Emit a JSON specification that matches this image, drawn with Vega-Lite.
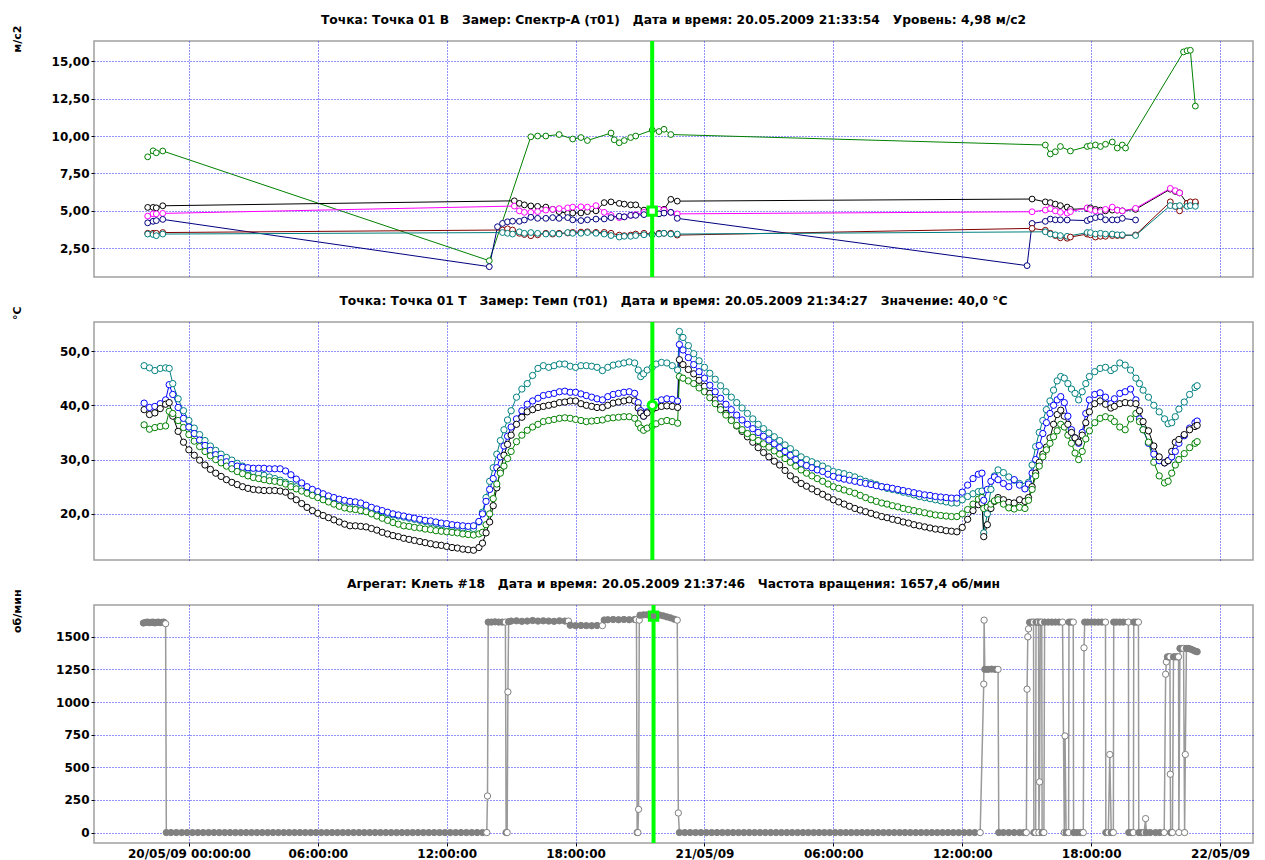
{
"$schema": "https://vega.github.io/schema/vega-lite/v6.json",
"background": "white",
"padding": {"left": 10, "top": 12, "right": 0, "bottom": 0},
"spacing": 13,
"datasets": {
"p1": [
{"t":"2009-05-19T22:05","g":8.61,"k":5.23,"m":4.65,"n":4.2,"r":3.5,"c":3.45},
{"t":"2009-05-19T22:20","g":9.01,"k":5.23,"m":4.8,"n":4.3,"r":3.5,"c":3.42},
{"t":"2009-05-19T22:29","g":8.88,"k":5.2,"m":4.8,"n":4.35,"r":3.5,"c":3.34},
{"t":"2009-05-19T22:47","g":9.0,"k":5.34,"m":4.83,"n":4.43,"r":3.55,"c":3.45},
{"t":"2009-05-20T13:59","g":1.67,"n":1.27},
{"t":"2009-05-20T14:22","n":3.94},
{"t":"2009-05-20T14:36","n":4.16,"r":3.72,"c":3.55},
{"t":"2009-05-20T14:50","n":4.27,"r":3.8,"c":3.5},
{"t":"2009-05-20T15:04","n":4.31,"r":3.72,"c":3.45},
{"t":"2009-05-20T15:09","k":5.67,"m":5.32},
{"t":"2009-05-20T15:23","n":4.3,"k":5.5,"m":5.0,"r":3.5,"c":3.6},
{"t":"2009-05-20T15:37","n":4.39,"k":5.4,"m":4.9,"r":3.42,"c":3.5},
{"t":"2009-05-20T15:55","g":9.95,"n":4.57,"k":5.33,"m":4.9,"r":3.34,"c":3.55},
{"t":"2009-05-20T16:14","g":10.0,"n":4.5,"k":5.3,"m":4.95,"r":3.4,"c":3.5},
{"t":"2009-05-20T16:37","g":10.0,"n":4.5,"k":5.25,"m":5.05,"r":3.5,"c":3.45},
{"t":"2009-05-20T16:56","n":4.55,"k":5.1,"m":5.1,"r":3.45,"c":3.5},
{"t":"2009-05-20T17:14","g":10.1,"n":4.5,"k":4.95,"m":5.15,"r":3.5,"c":3.45},
{"t":"2009-05-20T17:38","n":4.55,"k":4.83,"m":5.2,"r":3.52,"c":3.55},
{"t":"2009-05-20T17:52","g":9.8,"n":4.4,"k":4.85,"m":5.25,"r":3.56,"c":3.5},
{"t":"2009-05-20T18:15","g":9.9,"n":4.35,"k":4.86,"m":5.27,"r":3.58,"c":3.5},
{"t":"2009-05-20T18:33","g":9.7,"n":4.4,"k":4.95,"m":5.25,"r":3.6,"c":3.55},
{"t":"2009-05-20T18:57","n":4.45,"k":5.0,"m":5.35,"r":3.56,"c":3.5},
{"t":"2009-05-20T19:20","n":4.46,"k":5.55,"m":4.9,"r":3.56,"c":3.45},
{"t":"2009-05-20T19:39","g":10.2,"n":4.55,"k":5.6,"m":4.7,"r":3.5,"c":3.35},
{"t":"2009-05-20T19:48","g":9.75},
{"t":"2009-05-20T20:02","g":9.55,"n":4.64,"k":5.5,"m":4.55,"r":3.38,"c":3.25},
{"t":"2009-05-20T20:16","g":9.7,"n":4.6,"k":5.45,"m":4.6,"r":3.34,"c":3.3},
{"t":"2009-05-20T20:34","g":9.9,"n":4.7,"k":5.4,"m":4.7,"r":3.38,"c":3.3},
{"t":"2009-05-20T20:48","g":10.0,"n":4.7,"k":5.4,"m":4.75,"r":3.45,"c":3.35},
{"t":"2009-05-20T21:11","n":4.75,"k":5.05,"m":4.9,"r":3.5,"c":3.4},
{"t":"2009-05-20T21:34","g":10.4,"n":4.8,"k":5.0,"m":4.98,"r":3.45,"c":3.4},
{"t":"2009-05-20T21:53","g":10.3,"n":4.8,"k":5.05,"m":5.1,"r":3.5,"c":3.45},
{"t":"2009-05-20T22:07","g":10.45,"n":4.85,"k":5.1,"m":5.05,"r":3.5,"c":3.5},
{"t":"2009-05-20T22:26","g":10.1,"n":4.9,"k":5.77,"m":4.9,"r":3.5,"c":3.45},
{"t":"2009-05-20T22:44","n":4.5,"k":5.65,"m":4.8,"r":3.38,"c":3.45},
{"t":"2009-05-21T15:01","n":1.34},
{"t":"2009-05-21T15:15","n":4.16,"k":5.79,"m":4.94,"r":3.83},
{"t":"2009-05-21T15:52","g":9.4,"n":4.3,"k":5.6,"m":5.05,"r":3.7,"c":3.6},
{"t":"2009-05-21T16:06","g":8.8,"n":4.45,"k":5.55,"m":5.15,"r":3.5,"c":3.45},
{"t":"2009-05-21T16:20","g":8.95,"n":4.4,"k":5.45,"m":5.0,"r":3.35,"c":3.4},
{"t":"2009-05-21T16:34","g":9.3,"n":4.4,"k":5.35,"m":4.9,"r":3.2,"c":3.35},
{"t":"2009-05-21T16:53","n":4.39,"k":5.25,"m":4.85,"r":3.17,"c":3.3},
{"t":"2009-05-21T17:02","g":9.0,"k":5.1,"m":4.95,"r":3.25},
{"t":"2009-05-21T17:49","g":9.3,"n":4.35,"k":5.15,"m":5.2,"r":3.45,"c":3.55},
{"t":"2009-05-21T17:58","g":9.35,"n":4.45,"k":5.2,"m":5.1,"r":3.4,"c":3.55},
{"t":"2009-05-21T18:12","g":9.4,"n":4.55,"k":5.1,"m":5.0,"r":3.25,"c":3.45},
{"t":"2009-05-21T18:26","g":9.3,"n":4.6,"k":5.05,"m":4.95,"r":3.3,"c":3.5},
{"t":"2009-05-21T18:40","g":9.45,"n":4.4,"k":5.0,"m":5.1,"r":3.3,"c":3.45},
{"t":"2009-05-21T18:59","g":9.6,"n":4.4,"k":5.05,"m":5.25,"r":3.35,"c":3.45},
{"t":"2009-05-21T19:13","g":9.2,"n":4.4,"k":5.05,"m":5.05,"r":3.35,"c":3.4},
{"t":"2009-05-21T19:27","g":9.4,"n":4.5,"k":5.0,"m":5.0,"r":3.35,"c":3.4},
{"t":"2009-05-21T19:36","g":9.2},
{"t":"2009-05-21T20:04","n":4.39,"k":5.1,"m":5.17,"r":3.39,"c":3.35},
{"t":"2009-05-21T21:41","k":6.45,"m":6.5,"r":5.6,"c":5.35},
{"t":"2009-05-21T21:55","k":6.3,"m":6.35,"r":5.3,"c":5.3},
{"t":"2009-05-21T22:07","k":6.2,"m":6.2,"r":5.0,"c":5.35},
{"t":"2009-05-21T22:18","g":15.62},
{"t":"2009-05-21T22:28","g":15.7,"k":5.5,"r":5.5,"c":5.3},
{"t":"2009-05-21T22:37","g":15.73,"k":5.5,"r":5.6,"c":5.35},
{"t":"2009-05-21T22:51","g":12.0,"k":5.5,"r":5.6,"c":5.3}
],
"p2": [
{"t":"2009-05-19T21:55","c":47.3,"b":40.4,"k":39.2,"g":36.4},
{"t":"2009-05-19T22:10","c":46.9,"b":39.6,"k":38.3,"g":35.6},
{"t":"2009-05-19T22:25","c":46.4,"b":39.8,"k":38.6,"g":35.9},
{"t":"2009-05-19T22:40","c":46.8,"b":40.3,"k":39.4,"g":36.1},
{"t":"2009-05-19T22:55","c":46.9,"b":41.0,"k":40.2,"g":36.2},
{"t":"2009-05-19T23:05","c":46.8,"b":43.8,"k":40.5,"g":38.9},
{"t":"2009-05-19T23:15","c":44.0,"b":42.0,"k":38.0,"g":38.5},
{"t":"2009-05-19T23:30","c":41.2,"b":39.6,"k":35.2,"g":37.2},
{"t":"2009-05-19T23:45","c":39.0,"b":37.6,"k":33.2,"g":35.9},
{"t":"2009-05-20T00:00","c":37.2,"b":36.0,"k":31.8,"g":34.6},
{"t":"2009-05-20T00:15","c":35.8,"b":34.8,"k":30.8,"g":33.4},
{"t":"2009-05-20T00:30","c":34.6,"b":33.6,"k":29.9,"g":32.4},
{"t":"2009-05-20T00:45","c":33.5,"b":32.6,"k":29.0,"g":31.5},
{"t":"2009-05-20T01:00","c":32.5,"b":31.7,"k":28.2,"g":30.7},
{"t":"2009-05-20T01:15","c":31.7,"b":30.9,"k":27.5,"g":30.0},
{"t":"2009-05-20T01:30","c":31.0,"b":30.2,"k":26.9,"g":29.4},
{"t":"2009-05-20T01:45","c":30.4,"b":29.6,"k":26.3,"g":28.8},
{"t":"2009-05-20T02:00","c":29.9,"b":29.1,"k":25.8,"g":28.3},
{"t":"2009-05-20T02:15","c":29.3,"b":28.8,"k":25.4,"g":27.8},
{"t":"2009-05-20T02:30","c":28.8,"b":28.6,"k":25.0,"g":27.4},
{"t":"2009-05-20T02:45","c":28.2,"b":28.5,"k":24.7,"g":27.0},
{"t":"2009-05-20T03:00","c":27.8,"b":28.4,"k":24.5,"g":26.7},
{"t":"2009-05-20T03:15","c":27.4,"b":28.4,"k":24.4,"g":26.5},
{"t":"2009-05-20T03:30","c":27.1,"b":28.4,"k":24.3,"g":26.3},
{"t":"2009-05-20T03:45","c":26.8,"b":28.3,"k":24.3,"g":26.1},
{"t":"2009-05-20T04:00","c":26.5,"b":28.3,"k":24.3,"g":26.0},
{"t":"2009-05-20T04:15","c":26.2,"b":28.3,"k":24.2,"g":25.8},
{"t":"2009-05-20T04:30","c":25.8,"b":27.9,"k":24.0,"g":25.5},
{"t":"2009-05-20T04:45","c":25.4,"b":27.2,"k":23.3,"g":25.0},
{"t":"2009-05-20T05:00","c":25.0,"b":26.4,"k":22.6,"g":24.6},
{"t":"2009-05-20T05:15","c":24.7,"b":25.7,"k":21.9,"g":24.2},
{"t":"2009-05-20T05:30","c":24.4,"b":25.0,"k":21.2,"g":23.8},
{"t":"2009-05-20T05:45","c":24.1,"b":24.5,"k":20.6,"g":23.4},
{"t":"2009-05-20T06:00","c":23.8,"b":24.1,"k":20.1,"g":23.0},
{"t":"2009-05-20T06:15","c":23.4,"b":23.7,"k":19.7,"g":22.6},
{"t":"2009-05-20T06:30","c":23.0,"b":23.3,"k":19.3,"g":22.2},
{"t":"2009-05-20T06:45","c":22.7,"b":23.0,"k":18.9,"g":21.8},
{"t":"2009-05-20T07:00","c":22.4,"b":22.7,"k":18.5,"g":21.4},
{"t":"2009-05-20T07:15","c":22.1,"b":22.5,"k":18.1,"g":21.1},
{"t":"2009-05-20T07:30","c":21.8,"b":22.3,"k":17.8,"g":20.9},
{"t":"2009-05-20T07:45","c":21.6,"b":22.2,"k":17.8,"g":20.8},
{"t":"2009-05-20T08:00","c":21.5,"b":22.0,"k":17.7,"g":20.6},
{"t":"2009-05-20T08:15","c":21.3,"b":21.6,"k":17.6,"g":20.4},
{"t":"2009-05-20T08:30","c":21.0,"b":21.2,"k":17.3,"g":20.0},
{"t":"2009-05-20T08:45","c":20.7,"b":20.9,"k":17.0,"g":19.6},
{"t":"2009-05-20T09:00","c":20.4,"b":20.6,"k":16.6,"g":19.2},
{"t":"2009-05-20T09:15","c":20.1,"b":20.3,"k":16.3,"g":18.8},
{"t":"2009-05-20T09:30","c":19.8,"b":20.0,"k":16.0,"g":18.4},
{"t":"2009-05-20T09:45","c":19.6,"b":19.8,"k":15.8,"g":18.1},
{"t":"2009-05-20T10:00","c":19.4,"b":19.6,"k":15.5,"g":17.8},
{"t":"2009-05-20T10:15","c":19.2,"b":19.4,"k":15.3,"g":17.7},
{"t":"2009-05-20T10:30","c":19.0,"b":19.2,"k":15.1,"g":17.5},
{"t":"2009-05-20T10:45","c":18.8,"b":19.0,"k":14.9,"g":17.4},
{"t":"2009-05-20T11:00","c":18.6,"b":18.8,"k":14.7,"g":17.2},
{"t":"2009-05-20T11:15","c":18.4,"b":18.7,"k":14.5,"g":17.1},
{"t":"2009-05-20T11:30","c":18.2,"b":18.5,"k":14.3,"g":16.9},
{"t":"2009-05-20T11:45","c":18.0,"b":18.3,"k":14.2,"g":16.8},
{"t":"2009-05-20T12:00","c":17.8,"b":18.2,"k":14.0,"g":16.7},
{"t":"2009-05-20T12:15","c":17.7,"b":18.0,"k":13.8,"g":16.6},
{"t":"2009-05-20T12:30","c":17.5,"b":17.9,"k":13.7,"g":16.5},
{"t":"2009-05-20T12:45","c":17.4,"b":17.8,"k":13.5,"g":16.3},
{"t":"2009-05-20T13:00","c":17.3,"b":17.7,"k":13.4,"g":16.2},
{"t":"2009-05-20T13:15","c":17.3,"b":17.8,"k":13.3,"g":16.1},
{"t":"2009-05-20T13:30","c":18.5,"b":18.6,"k":13.8,"g":16.3},
{"t":"2009-05-20T13:40","c":20.3,"b":20.0,"k":14.6,"g":16.6},
{"t":"2009-05-20T13:50","c":23.0,"b":22.3,"k":16.5,"g":18.0},
{"t":"2009-05-20T14:00","c":26.0,"b":24.5,"k":18.5,"g":20.0},
{"t":"2009-05-20T14:10","c":28.5,"b":26.5,"k":21.5,"g":22.8},
{"t":"2009-05-20T14:20","c":31.0,"b":28.5,"k":24.8,"g":25.5},
{"t":"2009-05-20T14:30","c":33.5,"b":30.5,"k":28.0,"g":27.5},
{"t":"2009-05-20T14:40","c":35.5,"b":32.5,"k":30.8,"g":28.8},
{"t":"2009-05-20T14:50","c":37.3,"b":34.3,"k":32.8,"g":30.2},
{"t":"2009-05-20T15:00","c":39.0,"b":36.0,"k":34.5,"g":31.5},
{"t":"2009-05-20T15:15","c":41.5,"b":37.5,"k":36.5,"g":33.3},
{"t":"2009-05-20T15:30","c":43.0,"b":39.0,"k":37.8,"g":34.5},
{"t":"2009-05-20T15:45","c":44.0,"b":40.2,"k":38.8,"g":35.4},
{"t":"2009-05-20T16:00","c":45.5,"b":40.8,"k":39.2,"g":36.0},
{"t":"2009-05-20T16:15","c":46.8,"b":41.3,"k":39.6,"g":36.5},
{"t":"2009-05-20T16:30","c":47.3,"b":41.8,"k":39.8,"g":37.0},
{"t":"2009-05-20T16:45","c":47.0,"b":42.0,"k":40.0,"g":37.2},
{"t":"2009-05-20T17:00","c":47.3,"b":42.2,"k":40.2,"g":37.4},
{"t":"2009-05-20T17:15","c":47.6,"b":42.5,"k":40.5,"g":37.6},
{"t":"2009-05-20T17:30","c":47.6,"b":42.6,"k":40.6,"g":37.7},
{"t":"2009-05-20T17:45","c":47.2,"b":42.4,"k":40.8,"g":37.6},
{"t":"2009-05-20T18:00","c":47.0,"b":42.4,"k":40.8,"g":37.4},
{"t":"2009-05-20T18:15","c":47.3,"b":42.1,"k":40.3,"g":37.2},
{"t":"2009-05-20T18:30","c":47.3,"b":41.8,"k":40.0,"g":37.0},
{"t":"2009-05-20T18:45","c":47.2,"b":41.5,"k":39.8,"g":37.1},
{"t":"2009-05-20T19:00","c":47.0,"b":41.2,"k":39.6,"g":37.2},
{"t":"2009-05-20T19:15","c":46.4,"b":41.0,"k":39.6,"g":37.3},
{"t":"2009-05-20T19:30","c":47.0,"b":41.6,"k":40.0,"g":37.6},
{"t":"2009-05-20T19:45","c":47.4,"b":42.0,"k":40.4,"g":37.7},
{"t":"2009-05-20T20:00","c":47.6,"b":42.2,"k":40.6,"g":37.8},
{"t":"2009-05-20T20:15","c":47.8,"b":42.4,"k":40.8,"g":37.9},
{"t":"2009-05-20T20:30","c":48.0,"b":42.5,"k":41.0,"g":37.9},
{"t":"2009-05-20T20:45","c":47.8,"b":42.2,"k":40.8,"g":37.6},
{"t":"2009-05-20T20:55","c":46.5,"b":40.5,"k":39.5,"g":36.6},
{"t":"2009-05-20T21:02","c":45.3,"b":39.0,"k":38.6,"g":35.8},
{"t":"2009-05-20T21:10","c":45.8,"b":38.0,"k":38.0,"g":35.4},
{"t":"2009-05-20T21:20","c":46.5,"b":38.8,"k":38.6,"g":35.8},
{"t":"2009-05-20T21:34","c":47.0,"b":40.0,"k":39.2,"g":36.2},
{"t":"2009-05-20T21:45","c":47.6,"b":40.6,"k":39.6,"g":36.6},
{"t":"2009-05-20T22:00","c":47.9,"b":41.0,"k":39.8,"g":37.0},
{"t":"2009-05-20T22:15","c":47.8,"b":41.2,"k":39.9,"g":37.2},
{"t":"2009-05-20T22:30","c":47.3,"b":41.1,"k":39.8,"g":37.0},
{"t":"2009-05-20T22:45","c":46.5,"b":40.8,"k":39.6,"g":36.7},
{"t":"2009-05-20T22:50","c":53.6,"b":51.2,"k":48.4,"g":45.3},
{"t":"2009-05-20T23:00","c":52.5,"b":50.2,"k":47.5,"g":45.0},
{"t":"2009-05-20T23:15","c":51.0,"b":48.8,"k":46.6,"g":44.5},
{"t":"2009-05-20T23:30","c":49.5,"b":47.5,"k":45.8,"g":44.0},
{"t":"2009-05-20T23:45","c":48.2,"b":46.2,"k":44.6,"g":43.2},
{"t":"2009-05-21T00:00","c":47.0,"b":45.0,"k":43.5,"g":42.5},
{"t":"2009-05-21T00:15","c":45.9,"b":43.7,"k":42.2,"g":41.4},
{"t":"2009-05-21T00:30","c":44.8,"b":42.5,"k":41.0,"g":40.3},
{"t":"2009-05-21T00:45","c":43.6,"b":41.3,"k":39.7,"g":39.2},
{"t":"2009-05-21T01:00","c":42.5,"b":40.2,"k":38.5,"g":38.2},
{"t":"2009-05-21T01:15","c":41.5,"b":39.2,"k":37.3,"g":37.2},
{"t":"2009-05-21T01:30","c":40.5,"b":38.2,"k":36.2,"g":36.3},
{"t":"2009-05-21T01:45","c":39.5,"b":37.3,"k":35.2,"g":35.5},
{"t":"2009-05-21T02:00","c":38.5,"b":36.5,"k":34.2,"g":34.8},
{"t":"2009-05-21T02:15","c":37.5,"b":35.7,"k":33.2,"g":34.1},
{"t":"2009-05-21T02:30","c":36.5,"b":35.0,"k":32.2,"g":33.5},
{"t":"2009-05-21T02:45","c":35.7,"b":34.3,"k":31.3,"g":32.9},
{"t":"2009-05-21T03:00","c":34.9,"b":33.6,"k":30.5,"g":32.3},
{"t":"2009-05-21T03:15","c":34.2,"b":32.9,"k":29.7,"g":31.6},
{"t":"2009-05-21T03:30","c":33.5,"b":32.2,"k":29.0,"g":31.0},
{"t":"2009-05-21T03:45","c":32.7,"b":31.5,"k":28.0,"g":30.2},
{"t":"2009-05-21T04:00","c":32.0,"b":30.8,"k":27.0,"g":29.5},
{"t":"2009-05-21T04:15","c":31.2,"b":30.0,"k":26.3,"g":28.8},
{"t":"2009-05-21T04:30","c":30.5,"b":29.3,"k":25.6,"g":28.1},
{"t":"2009-05-21T04:45","c":30.0,"b":28.9,"k":25.1,"g":27.5},
{"t":"2009-05-21T05:00","c":29.6,"b":28.5,"k":24.6,"g":27.0},
{"t":"2009-05-21T05:15","c":29.2,"b":28.1,"k":24.1,"g":26.5},
{"t":"2009-05-21T05:30","c":28.8,"b":27.8,"k":23.6,"g":26.0},
{"t":"2009-05-21T05:45","c":28.3,"b":27.3,"k":23.1,"g":25.5},
{"t":"2009-05-21T06:00","c":27.8,"b":26.9,"k":22.6,"g":25.0},
{"t":"2009-05-21T06:15","c":27.6,"b":26.6,"k":22.2,"g":24.7},
{"t":"2009-05-21T06:30","c":27.4,"b":26.4,"k":21.8,"g":24.4},
{"t":"2009-05-21T06:45","c":27.1,"b":26.2,"k":21.4,"g":24.1},
{"t":"2009-05-21T07:00","c":26.8,"b":26.0,"k":21.0,"g":23.8},
{"t":"2009-05-21T07:15","c":26.4,"b":25.8,"k":20.7,"g":23.4},
{"t":"2009-05-21T07:30","c":26.0,"b":25.6,"k":20.4,"g":23.0},
{"t":"2009-05-21T07:45","c":25.7,"b":25.4,"k":20.1,"g":22.6},
{"t":"2009-05-21T08:00","c":25.4,"b":25.2,"k":19.8,"g":22.3},
{"t":"2009-05-21T08:15","c":25.0,"b":25.0,"k":19.5,"g":22.0},
{"t":"2009-05-21T08:30","c":24.7,"b":24.9,"k":19.3,"g":21.8},
{"t":"2009-05-21T08:45","c":24.5,"b":24.7,"k":19.0,"g":21.5},
{"t":"2009-05-21T09:00","c":24.3,"b":24.5,"k":18.8,"g":21.3},
{"t":"2009-05-21T09:15","c":24.0,"b":24.3,"k":18.5,"g":21.0},
{"t":"2009-05-21T09:30","c":23.8,"b":24.1,"k":18.3,"g":20.8},
{"t":"2009-05-21T09:45","c":23.5,"b":23.9,"k":18.0,"g":20.6},
{"t":"2009-05-21T10:00","c":23.2,"b":23.7,"k":17.8,"g":20.4},
{"t":"2009-05-21T10:15","c":23.0,"b":23.5,"k":17.6,"g":20.2},
{"t":"2009-05-21T10:30","c":22.8,"b":23.4,"k":17.4,"g":20.0},
{"t":"2009-05-21T10:45","c":22.6,"b":23.2,"k":17.2,"g":19.8},
{"t":"2009-05-21T11:00","c":22.4,"b":23.1,"k":17.1,"g":19.7},
{"t":"2009-05-21T11:15","c":22.2,"b":23.0,"k":16.9,"g":19.6},
{"t":"2009-05-21T11:30","c":22.0,"b":22.9,"k":16.8,"g":19.5},
{"t":"2009-05-21T11:45","c":22.0,"b":22.9,"k":16.7,"g":19.5},
{"t":"2009-05-21T12:00","c":22.6,"b":24.0,"k":17.5,"g":20.0},
{"t":"2009-05-21T12:15","c":23.2,"b":25.3,"k":19.0,"g":20.8},
{"t":"2009-05-21T12:30","c":23.7,"b":26.5,"k":20.6,"g":21.8},
{"t":"2009-05-21T12:45","c":24.1,"b":27.3,"k":21.7,"g":22.7},
{"t":"2009-05-21T12:55","c":24.2,"b":27.5,"k":22.0,"g":23.0},
{"t":"2009-05-21T13:00","c":16.5,"b":22.5,"k":15.8,"g":21.0},
{"t":"2009-05-21T13:10","c":20.0,"b":24.5,"k":18.0,"g":21.2},
{"t":"2009-05-21T13:20","c":24.5,"b":26.0,"k":21.0,"g":21.8},
{"t":"2009-05-21T13:30","c":27.0,"b":26.8,"k":22.3,"g":22.4},
{"t":"2009-05-21T13:40","c":28.1,"b":26.3,"k":23.0,"g":22.6},
{"t":"2009-05-21T13:55","c":27.6,"b":25.6,"k":22.6,"g":21.8},
{"t":"2009-05-21T14:10","c":26.8,"b":25.0,"k":22.1,"g":21.1},
{"t":"2009-05-21T14:25","c":26.2,"b":26.3,"k":22.0,"g":20.9},
{"t":"2009-05-21T14:40","c":25.6,"b":25.3,"k":22.6,"g":21.2},
{"t":"2009-05-21T14:55","c":25.1,"b":24.6,"k":22.3,"g":21.0},
{"t":"2009-05-21T15:05","c":25.8,"b":25.5,"k":23.0,"g":22.5},
{"t":"2009-05-21T15:15","c":29.0,"b":27.5,"k":25.0,"g":24.5},
{"t":"2009-05-21T15:25","c":32.4,"b":30.0,"k":27.5,"g":27.0},
{"t":"2009-05-21T15:35","c":35.0,"b":32.6,"k":29.5,"g":28.8},
{"t":"2009-05-21T15:45","c":37.2,"b":34.8,"k":31.0,"g":30.5},
{"t":"2009-05-21T15:55","c":39.2,"b":36.8,"k":32.3,"g":31.8},
{"t":"2009-05-21T16:05","c":40.8,"b":38.5,"k":34.0,"g":33.0},
{"t":"2009-05-21T16:15","c":42.8,"b":40.0,"k":36.5,"g":34.2},
{"t":"2009-05-21T16:25","c":44.5,"b":41.0,"k":38.3,"g":35.3},
{"t":"2009-05-21T16:35","c":45.3,"b":41.6,"k":39.1,"g":36.5},
{"t":"2009-05-21T16:45","c":45.0,"b":40.5,"k":38.0,"g":36.0},
{"t":"2009-05-21T16:55","c":44.0,"b":38.0,"k":36.5,"g":34.5},
{"t":"2009-05-21T17:05","c":43.0,"b":35.5,"k":35.0,"g":33.0},
{"t":"2009-05-21T17:15","c":42.2,"b":34.0,"k":34.0,"g":31.2},
{"t":"2009-05-21T17:25","c":41.0,"b":33.0,"k":33.2,"g":30.0},
{"t":"2009-05-21T17:35","c":42.5,"b":35.0,"k":34.5,"g":31.5},
{"t":"2009-05-21T17:45","c":44.0,"b":38.5,"k":36.8,"g":33.8},
{"t":"2009-05-21T17:55","c":45.3,"b":41.0,"k":38.8,"g":35.3},
{"t":"2009-05-21T18:10","c":46.2,"b":42.0,"k":40.3,"g":36.8},
{"t":"2009-05-21T18:25","c":46.8,"b":42.3,"k":40.8,"g":37.6},
{"t":"2009-05-21T18:40","c":47.0,"b":41.5,"k":40.2,"g":37.9},
{"t":"2009-05-21T18:55","c":46.4,"b":40.3,"k":39.5,"g":37.6},
{"t":"2009-05-21T19:05","c":46.8,"b":41.2,"k":39.8,"g":37.0},
{"t":"2009-05-21T19:20","c":47.8,"b":42.2,"k":40.3,"g":36.0},
{"t":"2009-05-21T19:35","c":47.4,"b":42.5,"k":40.5,"g":35.5},
{"t":"2009-05-21T19:50","c":46.5,"b":43.0,"k":40.4,"g":37.5},
{"t":"2009-05-21T20:05","c":45.0,"b":41.0,"k":40.3,"g":38.5},
{"t":"2009-05-21T20:15","c":44.0,"b":37.5,"k":39.0,"g":37.0},
{"t":"2009-05-21T20:25","c":42.8,"b":35.5,"k":37.0,"g":35.5},
{"t":"2009-05-21T20:40","c":41.5,"b":33.0,"k":35.3,"g":33.2},
{"t":"2009-05-21T20:55","c":40.0,"b":31.0,"k":32.5,"g":29.5},
{"t":"2009-05-21T21:10","c":38.8,"b":29.8,"k":30.5,"g":27.0},
{"t":"2009-05-21T21:25","c":37.5,"b":29.4,"k":29.4,"g":25.7},
{"t":"2009-05-21T21:35","c":36.6,"b":29.8,"k":29.8,"g":26.0},
{"t":"2009-05-21T21:45","c":36.8,"b":30.5,"k":31.5,"g":27.5},
{"t":"2009-05-21T21:55","c":37.9,"b":31.5,"k":33.2,"g":29.0},
{"t":"2009-05-21T22:05","c":39.3,"b":33.0,"k":33.7,"g":30.0},
{"t":"2009-05-21T22:20","c":40.6,"b":34.4,"k":34.6,"g":31.1},
{"t":"2009-05-21T22:35","c":42.0,"b":35.8,"k":35.5,"g":32.2},
{"t":"2009-05-21T22:50","c":43.3,"b":36.8,"k":36.1,"g":33.0},
{"t":"2009-05-21T22:56","c":43.6,"b":37.1,"k":36.3,"g":33.3}
],
"p3": [
{"t":"2009-05-19T21:53","v":1605},{"t":"2009-05-19T22:00","v":1610},{"t":"2009-05-19T22:05","v":1612},{"t":"2009-05-19T22:10","v":1608},{"t":"2009-05-19T22:15","v":1610},{"t":"2009-05-19T22:20","v":1612},{"t":"2009-05-19T22:25","v":1606},{"t":"2009-05-19T22:30","v":1610},{"t":"2009-05-19T22:35","v":1612},{"t":"2009-05-19T22:40","v":1608},{"t":"2009-05-19T22:45","v":1610},{"t":"2009-05-19T22:50","v":1612},{"t":"2009-05-19T22:55","v":1600},
{"t":"2009-05-19T22:57","v":0},{"t":"2009-05-19T23:10","v":0},{"t":"2009-05-19T23:25","v":0},{"t":"2009-05-19T23:40","v":0},{"t":"2009-05-19T23:55","v":0},
{"t":"2009-05-20T00:10","v":0},{"t":"2009-05-20T00:25","v":0},{"t":"2009-05-20T00:40","v":0},{"t":"2009-05-20T00:55","v":0},
{"t":"2009-05-20T01:10","v":0},{"t":"2009-05-20T01:25","v":0},{"t":"2009-05-20T01:40","v":0},{"t":"2009-05-20T01:55","v":0},
{"t":"2009-05-20T02:10","v":0},{"t":"2009-05-20T02:25","v":0},{"t":"2009-05-20T02:40","v":0},{"t":"2009-05-20T02:55","v":0},
{"t":"2009-05-20T03:10","v":0},{"t":"2009-05-20T03:25","v":0},{"t":"2009-05-20T03:40","v":0},{"t":"2009-05-20T03:55","v":0},
{"t":"2009-05-20T04:10","v":0},{"t":"2009-05-20T04:25","v":0},{"t":"2009-05-20T04:40","v":0},{"t":"2009-05-20T04:55","v":0},
{"t":"2009-05-20T05:10","v":0},{"t":"2009-05-20T05:25","v":0},{"t":"2009-05-20T05:40","v":0},{"t":"2009-05-20T05:55","v":0},
{"t":"2009-05-20T06:10","v":0},{"t":"2009-05-20T06:25","v":0},{"t":"2009-05-20T06:40","v":0},{"t":"2009-05-20T06:55","v":0},
{"t":"2009-05-20T07:10","v":0},{"t":"2009-05-20T07:25","v":0},{"t":"2009-05-20T07:40","v":0},{"t":"2009-05-20T07:55","v":0},
{"t":"2009-05-20T08:10","v":0},{"t":"2009-05-20T08:25","v":0},{"t":"2009-05-20T08:40","v":0},{"t":"2009-05-20T08:55","v":0},
{"t":"2009-05-20T09:10","v":0},{"t":"2009-05-20T09:25","v":0},{"t":"2009-05-20T09:40","v":0},{"t":"2009-05-20T09:55","v":0},
{"t":"2009-05-20T10:10","v":0},{"t":"2009-05-20T10:25","v":0},{"t":"2009-05-20T10:40","v":0},{"t":"2009-05-20T10:55","v":0},
{"t":"2009-05-20T11:10","v":0},{"t":"2009-05-20T11:25","v":0},{"t":"2009-05-20T11:40","v":0},{"t":"2009-05-20T11:55","v":0},
{"t":"2009-05-20T12:10","v":0},{"t":"2009-05-20T12:25","v":0},{"t":"2009-05-20T12:40","v":0},{"t":"2009-05-20T12:55","v":0},
{"t":"2009-05-20T13:10","v":0},{"t":"2009-05-20T13:25","v":0},{"t":"2009-05-20T13:40","v":0},{"t":"2009-05-20T13:52","v":0},
{"t":"2009-05-20T13:54","v":280},{"t":"2009-05-20T13:56","v":1612},{"t":"2009-05-20T14:05","v":1612},{"t":"2009-05-20T14:15","v":1614},{"t":"2009-05-20T14:25","v":1612},{"t":"2009-05-20T14:35","v":1612},{"t":"2009-05-20T14:44","v":1612},
{"t":"2009-05-20T14:46","v":0},{"t":"2009-05-20T14:49","v":0},{"t":"2009-05-20T14:51","v":1077},{"t":"2009-05-20T14:53","v":1615},
{"t":"2009-05-20T15:00","v":1620},{"t":"2009-05-20T15:15","v":1622},{"t":"2009-05-20T15:30","v":1618},{"t":"2009-05-20T15:45","v":1620},{"t":"2009-05-20T16:00","v":1624},{"t":"2009-05-20T16:15","v":1620},{"t":"2009-05-20T16:30","v":1622},{"t":"2009-05-20T16:45","v":1620},{"t":"2009-05-20T17:00","v":1618},{"t":"2009-05-20T17:15","v":1622},{"t":"2009-05-20T17:30","v":1620},{"t":"2009-05-20T17:40","v":1620},
{"t":"2009-05-20T17:45","v":1588},{"t":"2009-05-20T18:00","v":1585},{"t":"2009-05-20T18:15","v":1586},{"t":"2009-05-20T18:30","v":1585},{"t":"2009-05-20T18:45","v":1584},{"t":"2009-05-20T19:00","v":1586},{"t":"2009-05-20T19:15","v":1585},
{"t":"2009-05-20T19:20","v":1628},{"t":"2009-05-20T19:30","v":1630},{"t":"2009-05-20T19:45","v":1632},{"t":"2009-05-20T20:00","v":1630},{"t":"2009-05-20T20:15","v":1632},{"t":"2009-05-20T20:30","v":1630},{"t":"2009-05-20T20:45","v":1632},{"t":"2009-05-20T20:50","v":1630},
{"t":"2009-05-20T20:52","v":0},{"t":"2009-05-20T20:54","v":0},{"t":"2009-05-20T20:56","v":178},{"t":"2009-05-20T20:58","v":1627},
{"t":"2009-05-20T21:00","v":1665},{"t":"2009-05-20T21:10","v":1668},{"t":"2009-05-20T21:20","v":1668},{"t":"2009-05-20T21:30","v":1668},{"t":"2009-05-20T21:38","v":1657},{"t":"2009-05-20T21:45","v":1668},{"t":"2009-05-20T21:55","v":1666},{"t":"2009-05-20T22:05","v":1660},{"t":"2009-05-20T22:15","v":1652},{"t":"2009-05-20T22:25","v":1645},{"t":"2009-05-20T22:35","v":1635},{"t":"2009-05-20T22:44","v":1627},
{"t":"2009-05-20T22:47","v":150},{"t":"2009-05-20T22:50","v":0},
{"t":"2009-05-20T23:05","v":0},{"t":"2009-05-20T23:20","v":0},{"t":"2009-05-20T23:35","v":0},{"t":"2009-05-20T23:50","v":0},
{"t":"2009-05-21T00:05","v":0},{"t":"2009-05-21T00:20","v":0},{"t":"2009-05-21T00:35","v":0},{"t":"2009-05-21T00:50","v":0},
{"t":"2009-05-21T01:05","v":0},{"t":"2009-05-21T01:20","v":0},{"t":"2009-05-21T01:35","v":0},{"t":"2009-05-21T01:50","v":0},
{"t":"2009-05-21T02:05","v":0},{"t":"2009-05-21T02:20","v":0},{"t":"2009-05-21T02:35","v":0},{"t":"2009-05-21T02:50","v":0},
{"t":"2009-05-21T03:05","v":0},{"t":"2009-05-21T03:20","v":0},{"t":"2009-05-21T03:35","v":0},{"t":"2009-05-21T03:50","v":0},
{"t":"2009-05-21T04:05","v":0},{"t":"2009-05-21T04:20","v":0},{"t":"2009-05-21T04:35","v":0},{"t":"2009-05-21T04:50","v":0},
{"t":"2009-05-21T05:05","v":0},{"t":"2009-05-21T05:20","v":0},{"t":"2009-05-21T05:35","v":0},{"t":"2009-05-21T05:50","v":0},
{"t":"2009-05-21T06:05","v":0},{"t":"2009-05-21T06:20","v":0},{"t":"2009-05-21T06:35","v":0},{"t":"2009-05-21T06:50","v":0},
{"t":"2009-05-21T07:05","v":0},{"t":"2009-05-21T07:20","v":0},{"t":"2009-05-21T07:35","v":0},{"t":"2009-05-21T07:50","v":0},
{"t":"2009-05-21T08:05","v":0},{"t":"2009-05-21T08:20","v":0},{"t":"2009-05-21T08:35","v":0},{"t":"2009-05-21T08:50","v":0},
{"t":"2009-05-21T09:05","v":0},{"t":"2009-05-21T09:20","v":0},{"t":"2009-05-21T09:35","v":0},{"t":"2009-05-21T09:50","v":0},
{"t":"2009-05-21T10:05","v":0},{"t":"2009-05-21T10:20","v":0},{"t":"2009-05-21T10:35","v":0},{"t":"2009-05-21T10:50","v":0},
{"t":"2009-05-21T11:05","v":0},{"t":"2009-05-21T11:20","v":0},{"t":"2009-05-21T11:35","v":0},{"t":"2009-05-21T11:50","v":0},
{"t":"2009-05-21T12:05","v":0},{"t":"2009-05-21T12:20","v":0},{"t":"2009-05-21T12:35","v":0},{"t":"2009-05-21T12:50","v":0},
{"t":"2009-05-21T13:00","v":1137},{"t":"2009-05-21T13:01","v":1627},{"t":"2009-05-21T13:03","v":1250},{"t":"2009-05-21T13:12","v":1250},{"t":"2009-05-21T13:22","v":1252},{"t":"2009-05-21T13:32","v":1250},{"t":"2009-05-21T13:40","v":1250},
{"t":"2009-05-21T13:42","v":0},{"t":"2009-05-21T13:55","v":0},{"t":"2009-05-21T14:10","v":0},{"t":"2009-05-21T14:25","v":0},{"t":"2009-05-21T14:40","v":0},{"t":"2009-05-21T14:52","v":0},{"t":"2009-05-21T14:59","v":0},
{"t":"2009-05-21T15:01","v":1098},{"t":"2009-05-21T15:03","v":1499},{"t":"2009-05-21T15:05","v":1560},{"t":"2009-05-21T15:08","v":1610},{"t":"2009-05-21T15:14","v":1612},{"t":"2009-05-21T15:19","v":1612},
{"t":"2009-05-21T15:20","v":0},{"t":"2009-05-21T15:25","v":0},{"t":"2009-05-21T15:26","v":1612},{"t":"2009-05-21T15:30","v":1612},{"t":"2009-05-21T15:33","v":1612},
{"t":"2009-05-21T15:34","v":0},{"t":"2009-05-21T15:36","v":388},{"t":"2009-05-21T15:38","v":1612},{"t":"2009-05-21T15:42","v":1612},
{"t":"2009-05-21T15:43","v":0},{"t":"2009-05-21T15:48","v":0},{"t":"2009-05-21T15:50","v":1612},{"t":"2009-05-21T16:00","v":1612},{"t":"2009-05-21T16:10","v":1612},{"t":"2009-05-21T16:20","v":1612},{"t":"2009-05-21T16:30","v":1612},{"t":"2009-05-21T16:40","v":1612},
{"t":"2009-05-21T16:45","v":0},{"t":"2009-05-21T16:47","v":740},{"t":"2009-05-21T16:50","v":0},{"t":"2009-05-21T16:57","v":0},{"t":"2009-05-21T16:58","v":1612},{"t":"2009-05-21T17:04","v":1612},{"t":"2009-05-21T17:10","v":1612},
{"t":"2009-05-21T17:11","v":0},{"t":"2009-05-21T17:20","v":0},{"t":"2009-05-21T17:30","v":0},{"t":"2009-05-21T17:38","v":0},
{"t":"2009-05-21T17:40","v":1415},{"t":"2009-05-21T17:42","v":1612},{"t":"2009-05-21T17:50","v":1612},{"t":"2009-05-21T18:00","v":1612},{"t":"2009-05-21T18:10","v":1612},{"t":"2009-05-21T18:20","v":1612},{"t":"2009-05-21T18:30","v":1612},{"t":"2009-05-21T18:40","v":1612},
{"t":"2009-05-21T18:41","v":0},{"t":"2009-05-21T18:48","v":0},{"t":"2009-05-21T18:52","v":598},{"t":"2009-05-21T18:56","v":0},{"t":"2009-05-21T19:02","v":0},
{"t":"2009-05-21T19:03","v":1612},{"t":"2009-05-21T19:10","v":1612},{"t":"2009-05-21T19:20","v":1612},{"t":"2009-05-21T19:30","v":1612},{"t":"2009-05-21T19:44","v":1612},
{"t":"2009-05-21T19:45","v":0},{"t":"2009-05-21T19:52","v":0},{"t":"2009-05-21T19:58","v":0},{"t":"2009-05-21T19:59","v":1612},{"t":"2009-05-21T20:05","v":1612},{"t":"2009-05-21T20:12","v":1612},
{"t":"2009-05-21T20:13","v":0},{"t":"2009-05-21T20:20","v":0},{"t":"2009-05-21T20:28","v":0},{"t":"2009-05-21T20:32","v":107},{"t":"2009-05-21T20:34","v":0},{"t":"2009-05-21T20:45","v":0},{"t":"2009-05-21T21:00","v":0},{"t":"2009-05-21T21:12","v":0},{"t":"2009-05-21T21:24","v":0},
{"t":"2009-05-21T21:28","v":1213},{"t":"2009-05-21T21:30","v":1307},{"t":"2009-05-21T21:33","v":1346},{"t":"2009-05-21T21:37","v":1346},{"t":"2009-05-21T21:40","v":1346},
{"t":"2009-05-21T21:41","v":447},{"t":"2009-05-21T21:42","v":0},{"t":"2009-05-21T21:47","v":0},{"t":"2009-05-21T21:50","v":1346},{"t":"2009-05-21T21:55","v":1346},{"t":"2009-05-21T22:00","v":1346},{"t":"2009-05-21T22:04","v":1346},
{"t":"2009-05-21T22:05","v":0},{"t":"2009-05-21T22:08","v":1410},{"t":"2009-05-21T22:13","v":1410},{"t":"2009-05-21T22:18","v":1410},{"t":"2009-05-21T22:21","v":0},{"t":"2009-05-21T22:23","v":598},
{"t":"2009-05-21T22:26","v":1410},{"t":"2009-05-21T22:32","v":1410},{"t":"2009-05-21T22:38","v":1405},{"t":"2009-05-21T22:44","v":1398},{"t":"2009-05-21T22:50","v":1390},{"t":"2009-05-21T22:56","v":1385}
]
},
"vconcat": [
{
"width": 1159, "height": 236,
"title": {"text": "Точка: Точка 01 В\u00a0\u00a0 Замер: Спектр-А (т01)\u00a0\u00a0 Дата и время: 20.05.2009 21:33:54\u00a0\u00a0 Уровень: 4,98 м/с2"},
"encoding": {"x": {"field": "t", "type": "temporal", "scale": {"domain": [{"year":2009,"month":5,"date":19,"hours":19,"minutes":35},{"year":2009,"month":5,"date":22,"hours":1,"minutes":32}]},
  "axis": {"title": null, "labels": false, "ticks": false, "domain": false, "grid": true, "tickCount": 30,
   "values": [{"year":2009,"month":5,"date":20,"hours":0},{"year":2009,"month":5,"date":20,"hours":6},{"year":2009,"month":5,"date":20,"hours":12},{"year":2009,"month":5,"date":20,"hours":18},{"year":2009,"month":5,"date":21,"hours":0},{"year":2009,"month":5,"date":21,"hours":6},{"year":2009,"month":5,"date":21,"hours":12},{"year":2009,"month":5,"date":21,"hours":18},{"year":2009,"month":5,"date":22,"hours":0}]}}},
"layer": [
 {"data": {"name": "p1"}, "transform": [{"fold": ["g","k","m","n","r","c"], "as": ["s","v"]}, {"filter": "isValid(datum.v)"}],
  "mark": {"type": "line", "strokeWidth": 1},
  "encoding": {"y": {"field": "v", "type": "quantitative", "scale": {"domain": [0.58, 16.35], "nice": false, "zero": false},
     "axis": {"values": [2.5,5,7.5,10,12.5,15], "tickCount": 20, "labelOverlap": false, "labelExpr": "replace(format(datum.value, '.2f'), '.', ',')", "title": "м/с2", "titleX": -77, "titleY": -16, "titleAlign": "right", "titleAngle": -90, "titleBaseline": "middle", "tickSize": 3, "labelPadding": 2, "grid": true}},
   "color": {"field": "s", "type": "nominal", "scale": {"domain": ["g","k","m","n","r","c","b"], "range": ["#008000","#000000","#ff00ff","#000080","#800000","#008080","#0000ff"]}, "legend": null}}},
 {"data": {"name": "p1"}, "transform": [{"fold": ["g","k","m","n","r","c"], "as": ["s","v"]}, {"filter": "isValid(datum.v)"}],
  "mark": {"type": "point", "shape": "circle", "size": 34, "fill": "white", "strokeWidth": 1, "opacity": 1},
  "encoding": {"y": {"field": "v", "type": "quantitative", "scale": {"domain": [0.58, 16.35], "nice": false, "zero": false}},
   "stroke": {"field": "s", "type": "nominal", "scale": {"domain": ["g","k","m","n","r","c","b"], "range": ["#008000","#000000","#ff00ff","#000080","#800000","#008080","#0000ff"]}, "legend": null}}},
 {"data": {"values": [{"t": "2009-05-20T21:33:54", "v": 4.98}]}, "mark": {"type": "rule", "color": "#00ff00", "strokeWidth": 4}, "encoding": {}},
 {"data": {"values": [{"t": "2009-05-20T21:33:54", "v": 4.98}]}, "mark": {"type": "point", "shape": "square", "size": 70, "fill": "white", "stroke": "#00ff00", "strokeWidth": 3, "opacity": 1},
  "encoding": {"y": {"field": "v", "type": "quantitative", "scale": {"domain": [0.58, 16.35], "nice": false, "zero": false}}}}
]
},
{
"width": 1159, "height": 238,
"title": {"text": "Точка: Точка 01 Т\u00a0\u00a0 Замер: Темп (т01)\u00a0\u00a0 Дата и время: 20.05.2009 21:34:27\u00a0\u00a0 Значение: 40,0 °С"},
"encoding": {"x": {"field": "t", "type": "temporal", "scale": {"domain": [{"year":2009,"month":5,"date":19,"hours":19,"minutes":35},{"year":2009,"month":5,"date":22,"hours":1,"minutes":32}]},
  "axis": {"title": null, "labels": false, "ticks": false, "domain": false, "grid": true, "tickCount": 30,
   "values": [{"year":2009,"month":5,"date":20,"hours":0},{"year":2009,"month":5,"date":20,"hours":6},{"year":2009,"month":5,"date":20,"hours":12},{"year":2009,"month":5,"date":20,"hours":18},{"year":2009,"month":5,"date":21,"hours":0},{"year":2009,"month":5,"date":21,"hours":6},{"year":2009,"month":5,"date":21,"hours":12},{"year":2009,"month":5,"date":21,"hours":18},{"year":2009,"month":5,"date":22,"hours":0}]}}},
"layer": [
 {"data": {"name": "p2"}, "transform": [{"fold": ["c","b","k","g"], "as": ["s","v"]}, {"filter": "isValid(datum.v)"}],
  "mark": {"type": "line", "strokeWidth": 1},
  "encoding": {"y": {"field": "v", "type": "quantitative", "scale": {"domain": [11.5, 55.35], "nice": false, "zero": false},
     "axis": {"values": [20,30,40,50], "tickCount": 20, "labelOverlap": false, "labelExpr": "replace(format(datum.value, '.1f'), '.', ',')", "title": "°C", "titleX": -77, "titleY": -16, "titleAlign": "right", "titleAngle": -90, "titleBaseline": "middle", "tickSize": 3, "labelPadding": 2, "grid": true}},
   "color": {"field": "s", "type": "nominal", "scale": {"domain": ["g","k","m","n","r","c","b"], "range": ["#008000","#000000","#ff00ff","#000080","#800000","#008080","#0000ff"]}, "legend": null}}},
 {"data": {"name": "p2"}, "transform": [{"fold": ["c","b","k","g"], "as": ["s","v"]}, {"filter": "isValid(datum.v)"}],
  "mark": {"type": "point", "shape": "circle", "size": 40, "fill": "white", "strokeWidth": 1, "opacity": 1},
  "encoding": {"y": {"field": "v", "type": "quantitative", "scale": {"domain": [11.5, 55.35], "nice": false, "zero": false}},
   "stroke": {"field": "s", "type": "nominal", "scale": {"domain": ["g","k","m","n","r","c","b"], "range": ["#008000","#000000","#ff00ff","#000080","#800000","#008080","#0000ff"]}, "legend": null}}},
 {"data": {"values": [{"t": "2009-05-20T21:34:27", "v": 40.0}]}, "mark": {"type": "rule", "color": "#00ff00", "strokeWidth": 4}, "encoding": {}},
 {"data": {"values": [{"t": "2009-05-20T21:34:27", "v": 40.0}]}, "mark": {"type": "point", "shape": "circle", "size": 70, "fill": "white", "stroke": "#00ff00", "strokeWidth": 3, "opacity": 1},
  "encoding": {"y": {"field": "v", "type": "quantitative", "scale": {"domain": [11.5, 55.35], "nice": false, "zero": false}}}}
]
},
{
"width": 1159, "height": 238,
"title": {"text": "Агрегат: Клеть #18\u00a0\u00a0 Дата и время: 20.05.2009 21:37:46\u00a0\u00a0 Частота вращения: 1657,4 об/мин"},
"encoding": {"x": {"field": "t", "type": "temporal", "scale": {"domain": [{"year":2009,"month":5,"date":19,"hours":19,"minutes":35},{"year":2009,"month":5,"date":22,"hours":1,"minutes":32}]},
  "axis": {"title": null, "domain": false, "grid": true, "tickSize": 3, "labelPadding": 2, "labelFlush": false, "labelOverlap": false, "tickCount": 30,
   "labelExpr": "hours(datum.value) == 0 ? (date(datum.value) == 20 ? timeFormat(datum.value, '%d/%m/%y %H:%M:%S') : timeFormat(datum.value, '%d/%m/%y')) : timeFormat(datum.value, '%H:%M:%S')",
   "values": [{"year":2009,"month":5,"date":20,"hours":0},{"year":2009,"month":5,"date":20,"hours":6},{"year":2009,"month":5,"date":20,"hours":12},{"year":2009,"month":5,"date":20,"hours":18},{"year":2009,"month":5,"date":21,"hours":0},{"year":2009,"month":5,"date":21,"hours":6},{"year":2009,"month":5,"date":21,"hours":12},{"year":2009,"month":5,"date":21,"hours":18},{"year":2009,"month":5,"date":22,"hours":0}]}}},
"layer": [
 {"data": {"name": "p3"},
  "mark": {"type": "line", "strokeWidth": 1.5, "color": "#9a9a9a"},
  "encoding": {"y": {"field": "v", "type": "quantitative", "scale": {"domain": [-80, 1743], "nice": false, "zero": false},
     "axis": {"values": [0,250,500,750,1000,1250,1500], "tickCount": 20, "labelOverlap": false, "format": "d", "title": "об/мин", "titleX": -77, "titleY": -16, "titleAlign": "right", "titleAngle": -90, "titleBaseline": "middle", "tickSize": 3, "labelPadding": 2, "grid": true}}}},
 {"data": {"name": "p3"}, "transform": [{"window": [{"op": "lead", "field": "v", "as": "nv"}], "sort": [{"field": "t"}]}],
  "mark": {"type": "point", "shape": "circle", "size": 40, "filled": true, "stroke": "#808080", "strokeWidth": 1, "opacity": 1},
  "encoding": {"y": {"field": "v", "type": "quantitative", "scale": {"domain": [-80, 1743], "nice": false, "zero": false}},
   "fill": {"condition": {"test": "isValid(datum.nv) && abs(datum.v - datum.nv) > 30", "value": "white"}, "value": "#808080"}}},
 {"data": {"values": [{"t": "2009-05-20T21:37:46", "v": 1657.4}]}, "mark": {"type": "rule", "color": "#00ff00", "strokeWidth": 4}, "encoding": {}},
 {"data": {"values": [{"t": "2009-05-20T21:37:46", "v": 1657.4}]}, "mark": {"type": "point", "shape": "square", "size": 70, "fill": "#808080", "stroke": "#00ff00", "strokeWidth": 3, "opacity": 1},
  "encoding": {"y": {"field": "v", "type": "quantitative", "scale": {"domain": [-80, 1743], "nice": false, "zero": false}}}}
]
}
],
"config": {
 "font": "DejaVu Sans",
 "view": {"stroke": "#a0a0a0", "strokeWidth": 1.5},
 "axis": {"labelFont": "DejaVu Sans", "labelFontSize": 12, "labelFontWeight": "bold", "labelColor": "#000000", "tickColor": "#000000", "domain": false,
  "gridColor": "#0000ff", "gridDash": [1, 2], "gridWidth": 1, "gridOpacity": 0.85,
  "titleFont": "DejaVu Sans", "titleFontSize": 11, "titleFontWeight": "bold", "titleColor": "#000000"},
 "title": {"font": "DejaVu Sans", "fontSize": 12.3, "fontWeight": "bold", "color": "#000000", "anchor": "middle", "frame": "group", "offset": -1, "baseline": "alphabetic"}
}
}
